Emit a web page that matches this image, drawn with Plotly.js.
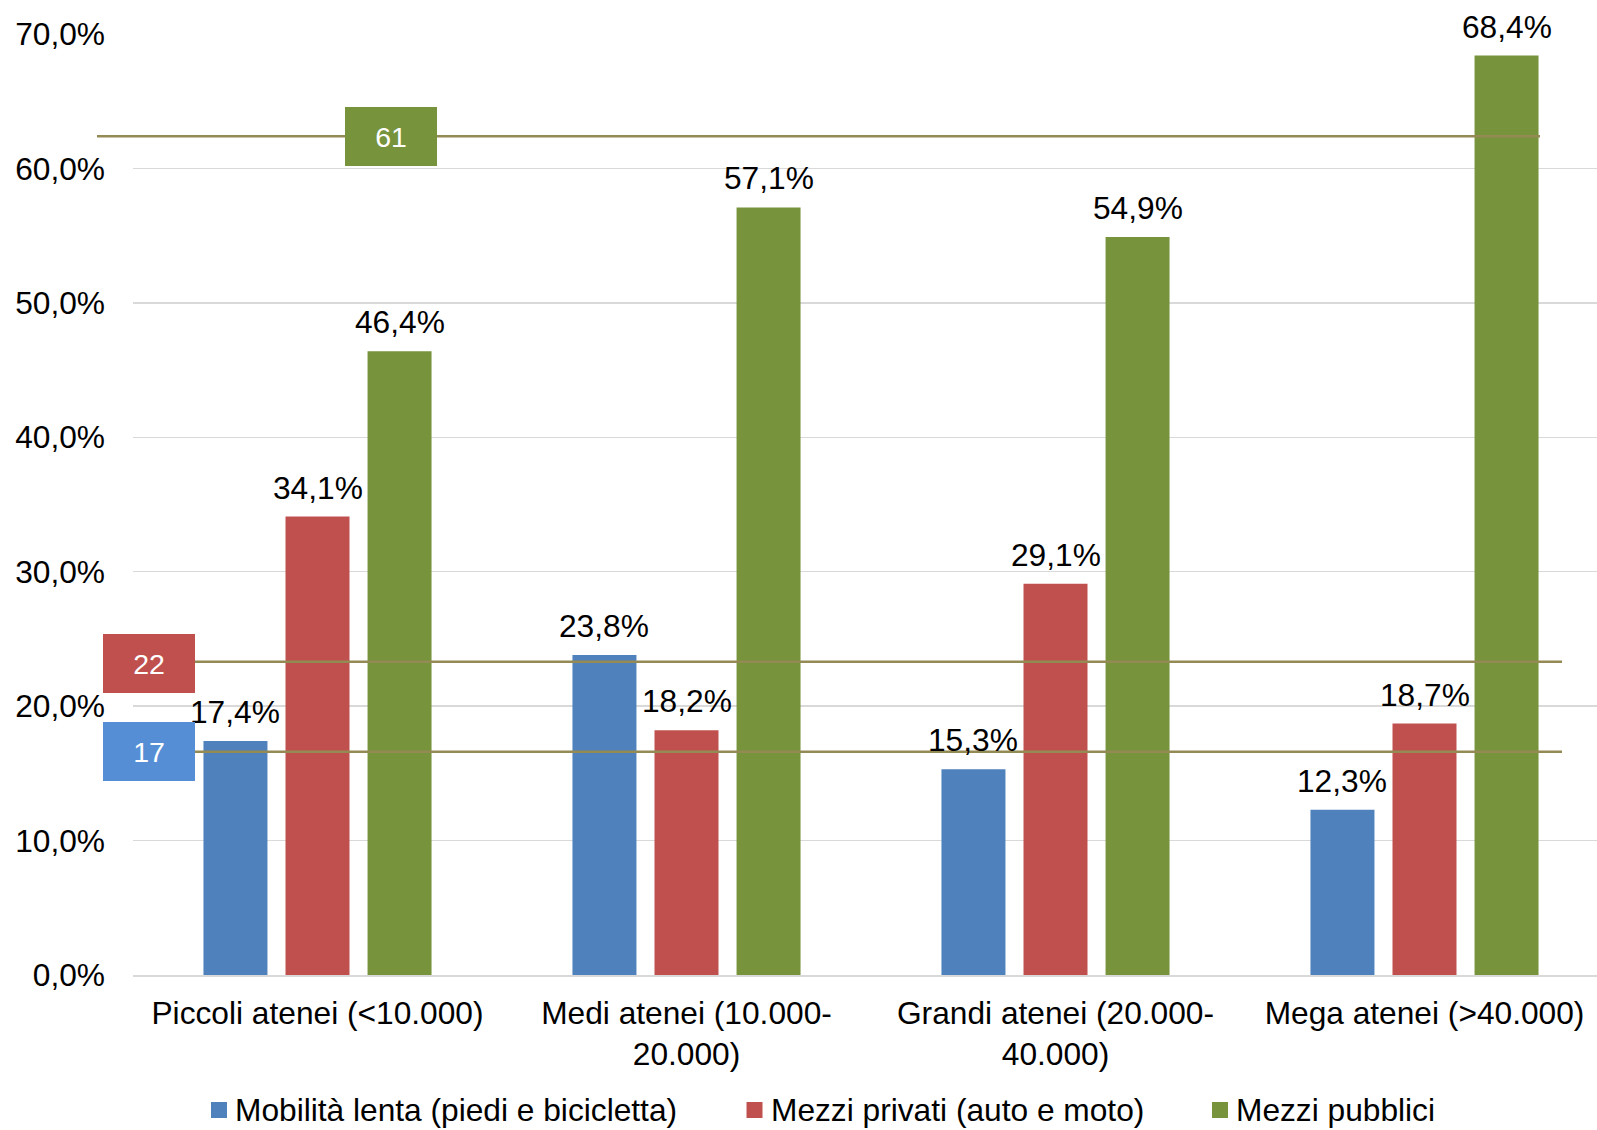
<!DOCTYPE html>
<html>
<head>
<meta charset="utf-8">
<script src="https://cdn.plot.ly/plotly-3.0.1.min.js"></script>
<style>html,body{margin:0;padding:0;background:#fff;}#chart{width:1597px;height:1130px;}</style>
</head>
<body>
<div id="chart"></div>
<script>
const categories = ["Piccoli atenei (<10.000)", "Medi atenei (10.000-<br>20.000)", "Grandi atenei (20.000-<br>40.000)", "Mega atenei (>40.000)"];
const seriesNames = ["Mobilità lenta (piedi e bicicletta)", "Mezzi privati (auto e moto)", "Mezzi pubblici"];
const mobilitaLenta = [0.174, 0.238, 0.153, 0.123];
const mezziPrivati = [0.341, 0.182, 0.291, 0.187];
const mezziPubblici = [0.464, 0.571, 0.549, 0.684];
const seriesColors = ["#4F81BD", "#C0504D", "#77933C"];
const refLabels = ["61", "22", "17"];
const refValues = [0.624, 0.233, 0.166];
const refBoxColors = ["#77933C", "#C0504D", "#558ED5"];
const yTickVals = [0, 0.1, 0.2, 0.3, 0.4, 0.5, 0.6, 0.7];

const FONT = "Liberation Sans, Arial, sans-serif";
const FS = 31.7;
const W = 1597, H = 1130;
const M = {l: 133, r: 0, t: 34, b: 155};
const pw = W - M.l - M.r, ph = H - M.t - M.b;
const px2paperX = p => (p - M.l) / pw;
const px2paperY = p => (H - M.b - p) / ph;

const bargap = 0.333;
const xIdx = categories.map((c, i) => i);
const allSeries = [mobilitaLenta, mezziPrivati, mezziPubblici];
const fmt = v => (v * 100).toFixed(1).replace('.', ',') + '%';

const traces = allSeries.map((vals, s) => ({
  type: 'bar',
  name: seriesNames[s],
  x: xIdx,
  y: vals,
  marker: {color: seriesColors[s], line: {width: 0}},
  hoverinfo: 'none',
  showlegend: false
}));

const annotations = [];
const slot = (1 - bargap) / 3;
allSeries.forEach((vals, s) => {
  vals.forEach((v, i) => {
    annotations.push({
      x: i + (s - 1) * slot, y: v, xref: 'x', yref: 'y',
      text: fmt(v), showarrow: false, yshift: 29, yanchor: 'middle', xanchor: 'center',
      font: {family: FONT, size: FS, color: '#000'}
    });
  });
});

// reference lines
const shapes = [];
const lineSpans = [[97, 1540], [195, 1562], [195, 1562]];
const boxCenters = [390.5, 149, 149];
const boxShift = [0, -2, 0];
refValues.forEach((v, k) => {
  shapes.push({
    type: 'line', xref: 'paper', yref: 'y',
    x0: px2paperX(lineSpans[k][0]), x1: px2paperX(lineSpans[k][1]), y0: v, y1: v,
    line: {color: '#948A54', width: 2.5}, layer: 'above'
  });
  annotations.push({
    x: px2paperX(boxCenters[k]), y: v, xref: 'paper', yref: 'y', yshift: boxShift[k],
    text: refLabels[k], showarrow: false, xanchor: 'center', yanchor: 'middle',
    width: 92, height: 59, bgcolor: refBoxColors[k], borderpad: 0, borderwidth: 0,
    font: {family: FONT, size: 28.5, color: '#fff'}
  });
});

// legend
const legMarkerX = [211, 746.5, 1212];
const legY = 1110;
seriesNames.forEach((n, s) => {
  shapes.push({
    type: 'rect', xref: 'paper', yref: 'paper',
    x0: px2paperX(legMarkerX[s]), x1: px2paperX(legMarkerX[s] + 16),
    y0: px2paperY(legY - 8), y1: px2paperY(legY + 8),
    fillcolor: seriesColors[s], line: {width: 0}
  });
  annotations.push({
    x: px2paperX(legMarkerX[s] + 22), y: px2paperY(legY), xref: 'paper', yref: 'paper',
    text: n, showarrow: false, xanchor: 'left', yanchor: 'middle',
    font: {family: FONT, size: FS, color: '#000'}
  });
});

const layout = {
  width: W, height: H,
  margin: M,
  paper_bgcolor: '#fff', plot_bgcolor: '#fff',
  separators: ',.',
  barmode: 'group', bargap: bargap, bargroupgap: 0.22,
  font: {family: FONT, size: FS, color: '#000'},
  showlegend: false,
  xaxis: {
    range: [-0.5, (W - M.l) / 369 - 0.5],
    tickvals: xIdx, ticktext: categories,
    ticks: '', showgrid: false, zeroline: false,
    showline: true, linecolor: '#d9d9d9', linewidth: 1.5,
    tickfont: {family: FONT, size: FS, color: '#000'},
    ticklabelstandoff: 9,
    fixedrange: true
  },
  yaxis: {
    range: [0, 0.7],
    tickvals: yTickVals, tickformat: '.1%',
    ticks: '', showgrid: true, gridcolor: '#d9d9d9', gridwidth: 1.5,
    zeroline: false, showline: false,
    tickfont: {family: FONT, size: FS, color: '#000'},
    ticklabelstandoff: 27,
    fixedrange: true
  },
  shapes: shapes,
  annotations: annotations
};

Plotly.newPlot('chart', traces, layout, {displayModeBar: false, staticPlot: true});
</script>
</body>
</html>
